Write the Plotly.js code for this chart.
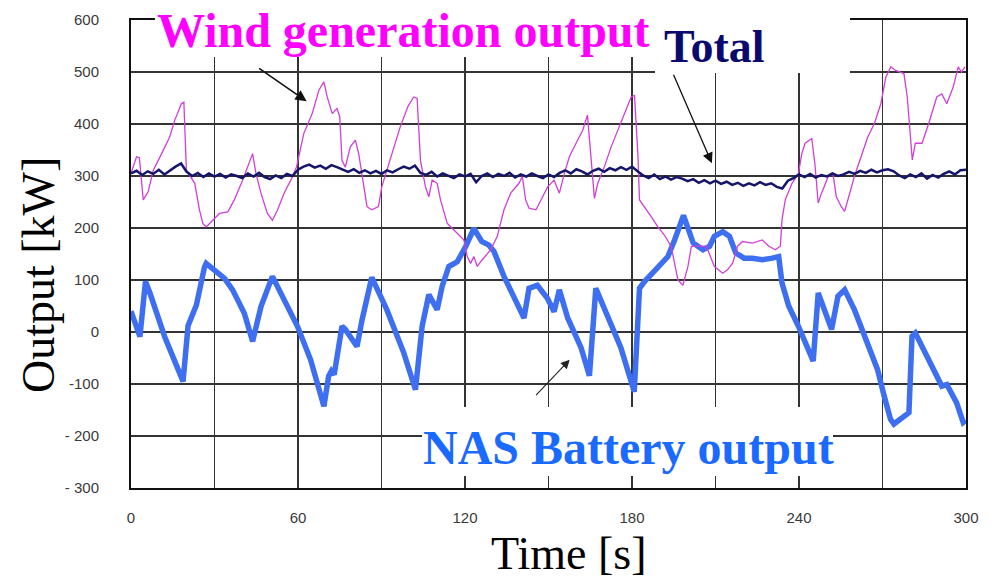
<!DOCTYPE html>
<html>
<head>
<meta charset="utf-8">
<script src="https://cdn.plot.ly/plotly-3.0.1.min.js"></script>
<style>html,body{margin:0;padding:0;background:#fff;}#chart{width:995px;height:581px;}</style>
</head>
<body>
<div id="chart"></div>
<script>
// ---- data ----
const xTickVals = [0, 30, 60, 90, 120, 150, 180, 210, 240, 270, 300];
const xTickText = ['0', '', '60', '', '120', '', '180', '', '240', '', '300'];
const yTickVals = [-300, -200, -100, 0, 100, 200, 300, 400, 500, 600];
const yTickText = ['- 300', '- 200', '-100', '0', '100', '200', '300', '400', '500', '600'];

const nasTime = [0, 3.2, 5.2, 6.8, 12.1, 18.7, 20.5, 23.5, 26.4, 27, 30.6, 33.6, 36.5, 40.7, 43.7, 46.7, 50.8, 55, 59.8, 64.5, 69.3, 71, 72, 73, 75.8, 77, 81.2, 83, 86.5, 91.9, 98, 102.2, 104.6, 107, 110, 111.8, 114.2, 117.2, 120.2, 123.2, 126, 128.6, 130.4, 134, 137.6, 141.2, 143, 146, 149.6, 152, 153.9, 156.9, 161.7, 164.7, 167, 171.3, 176, 180.8, 182.7, 184.5, 187.5, 190.5, 192.9, 195.3, 198.5, 202, 205.5, 207.9, 209.6, 212.6, 215, 217.3, 220.3, 223.2, 226.8, 230.4, 232.7, 233.9, 236.3, 239.8, 242.2, 245.1, 246.9, 249.3, 251.7, 254, 256.4, 259.9, 264.7, 268.2, 270.6, 272.9, 274.1, 277.7, 279.5, 280.6, 281.8, 284.8, 288.3, 291.3, 293.1, 296.6, 299, 300];
const nasPower = [40, -9, 97, 75, -9, -95, 12, 52, 125, 132, 116, 103, 81, 36, -18, 49, 107, 62, 11, -53, -143, -85, -75, -82, 11, 5, -28, 23, 105, 43, -40, -111, 11, 72, 43, 88, 126, 135, 164, 199, 174, 167, 155, 107, 65, 27, 84, 90, 65, 39, 81, 27, -30, -84, 84, 27, -30, -115, 84, 97, 113, 132, 145, 177, 224, 171, 158, 165, 184, 193, 184, 152, 142, 142, 139, 142, 145, 94, 50, 11, -21, -56, 75, 37, 5, 69, 81, 43, -21, -72, -123, -168, -177, -161, -155, -8, -2, -34, -72, -104, -101, -136, -174, -170];

const windTime = [0, 2, 3, 4.4, 6.2, 8, 9.8, 12.1, 13.9, 15.7, 18.1, 19, 19.9, 22.9, 24.6, 25.8, 27, 29.4, 31.8, 34.8, 37.1, 40.1, 42.5, 43.7, 44.9, 46.7, 49, 50.8, 52.6, 55, 57.4, 59.5, 62.1, 65.1, 67.5, 69.3, 70.5, 72.3, 74, 75, 75.8, 77, 78.8, 80.6, 81.8, 83.6, 84.8, 86.5, 88.9, 90.1, 93.1, 96.7, 99.6, 101.6, 102.8, 104, 105.8, 107, 108.2, 110, 111.2, 113.6, 117.2, 119.6, 120.8, 122, 123.2, 124.4, 126.2, 129.2, 131.6, 134, 136.4, 139.4, 140.6, 141.8, 143, 145.5, 147.3, 149.7, 152, 153.9, 155.7, 157.5, 159.9, 162.3, 164, 165.3, 166.5, 167.7, 170.1, 172.5, 174.9, 177.3, 179.7, 180.9, 182.1, 182.7, 184.5, 186.9, 189.3, 191.7, 194.1, 196.5, 198.3, 200.1, 201.3, 203.1, 206.7, 208.5, 209.6, 212.6, 214.4, 216.2, 217.9, 219.7, 223.3, 226.8, 229.2, 231.5, 233.3, 233.9, 235.1, 237.5, 239.8, 241, 242.2, 244.6, 245.7, 246.9, 248.1, 250.5, 252.2, 253.4, 255.2, 256.4, 258.2, 259.9, 262.3, 264.7, 267.1, 269.4, 271.2, 273, 274.7, 277.7, 278.9, 280.1, 280.7, 281.8, 284.2, 286.6, 289.5, 291.3, 293.1, 295.4, 297.2, 298.4, 299.6];
const windPower = [305, 337, 335, 254, 270, 311, 330, 356, 375, 407, 439, 442, 311, 286, 235, 209, 202, 215, 228, 231, 254, 292, 324, 343, 305, 267, 228, 215, 234, 267, 292, 318, 382, 420, 465, 481, 452, 420, 430, 414, 330, 317, 356, 369, 343, 279, 241, 235, 241, 279, 330, 394, 435, 452, 449, 330, 279, 260, 292, 286, 254, 209, 190, 177, 145, 132, 145, 126, 139, 158, 184, 235, 267, 286, 299, 254, 238, 235, 254, 279, 292, 267, 305, 337, 363, 388, 417, 324, 257, 286, 318, 356, 388, 420, 452, 455, 343, 254, 241, 222, 202, 186, 164, 100, 90, 126, 164, 165, 165, 139, 126, 113, 120, 133, 165, 174, 171, 177, 165, 158, 165, 216, 255, 286, 305, 343, 363, 372, 324, 248, 267, 299, 305, 260, 241, 232, 267, 299, 337, 375, 401, 439, 490, 510, 503, 497, 452, 363, 331, 363, 363, 401, 452, 458, 439, 471, 510, 500, 510];

const totalTime = [0, 2, 4, 6, 8, 10, 12, 14, 16, 18, 20, 22, 24, 26, 28, 30, 32, 34, 36, 38, 40, 42, 44, 46, 48, 50, 52, 54, 56, 58, 60, 62, 64, 66, 68, 70, 72, 74, 76, 78, 80, 82, 84, 86, 88, 90, 92, 94, 96, 98, 100, 102, 104, 106, 108, 110, 112, 114, 116, 118, 120, 122, 124, 126, 128, 130, 132, 134, 136, 138, 140, 142, 144, 146, 148, 150, 152, 154, 156, 158, 160, 162, 164, 166, 168, 170, 172, 174, 176, 178, 180, 182, 184, 186, 188, 190, 192, 194, 196, 198, 200, 202, 204, 206, 208, 210, 212, 214, 216, 218, 220, 222, 224, 226, 228, 230, 232, 234, 236, 238, 240, 242, 244, 246, 248, 250, 252, 254, 256, 258, 260, 262, 264, 266, 268, 270, 272, 274, 276, 278, 280, 282, 284, 286, 288, 290, 292, 294, 296, 298, 300];
const totalPower = [305, 310, 302, 309, 304, 312, 303, 311, 318, 324, 308, 300, 306, 298, 305, 299, 304, 297, 303, 300, 296, 305, 299, 306, 298, 294, 301, 296, 304, 300, 312, 318, 322, 316, 320, 314, 321, 317, 312, 308, 313, 306, 311, 305, 310, 304, 311, 307, 313, 318, 314, 320, 306, 302, 308, 299, 305, 301, 296, 303, 299, 304, 288, 300, 305, 298, 304, 300, 306, 297, 303, 299, 305, 300, 296, 303, 298, 306, 311, 305, 313, 309, 303, 310, 314, 308, 315, 311, 317, 312, 318, 309, 301, 296, 303, 294, 299, 293, 298, 295, 290, 294, 287, 292, 286, 291, 285, 289, 283, 287, 281, 286, 282, 288, 283, 286, 279, 276, 291, 296, 303, 298, 304, 297, 302, 299, 305, 300, 303, 308, 304, 310, 306, 312, 307, 311, 313, 309, 301, 296, 303, 298, 305, 295, 302, 297, 304, 309, 303, 311, 312];

// ---- chart ----
const serif = "'Liberation Serif', 'Times New Roman', serif";
const sans = "'Liberation Sans', Arial, sans-serif";

const traces = [
  {x: nasTime, y: nasPower, type: 'scatter', mode: 'lines', name: 'NAS Battery output',
   line: {color: '#3d6ff0', width: 5.5}},
  {x: windTime, y: windPower, type: 'scatter', mode: 'lines', name: 'Wind generation output',
   line: {color: '#d23fd6', width: 1.3}},
  {x: totalTime, y: totalPower, type: 'scatter', mode: 'lines', name: 'Total',
   line: {color: '#15156b', width: 2.5}}
];

function px2paperX(px) { return (px - 131) / 835; }
function px2paperY(py) { return (488 - py) / 468; }

const layout = {
  width: 995, height: 581,
  margin: {l: 131, r: 29, t: 20, b: 93},
  paper_bgcolor: '#ffffff', plot_bgcolor: '#ffffff',
  showlegend: false,
  xaxis: {
    range: [0, 300], tickmode: 'array', tickvals: xTickVals, ticktext: xTickText,
    showgrid: true, gridcolor: '#333333', gridwidth: 1.8,
    showline: true, mirror: true, linecolor: '#111', linewidth: 2,
    zeroline: false, ticks: '', ticklabelstandoff: 15,
    tickfont: {family: sans, size: 15, color: '#3a3a3a'}
  },
  yaxis: {
    range: [-300, 600], tickmode: 'array', tickvals: yTickVals, ticktext: yTickText,
    showgrid: true, gridcolor: '#333333', gridwidth: 1.8,
    showline: true, mirror: true, linecolor: '#111', linewidth: 2,
    zeroline: false, ticks: '', ticklabelstandoff: 27,
    tickfont: {family: sans, size: 15, color: '#3a3a3a'}
  },
  shapes: [
    {type: 'rect', xref: 'paper', yref: 'paper', layer: 'above', line: {width: 0}, fillcolor: '#ffffff',
     x0: px2paperX(155), x1: px2paperX(655), y0: px2paperY(57), y1: px2paperY(0)},
    {type: 'rect', xref: 'paper', yref: 'paper', layer: 'above', line: {width: 0}, fillcolor: '#ffffff',
     x0: px2paperX(655), x1: px2paperX(850), y0: px2paperY(73), y1: px2paperY(0)},
    {type: 'rect', xref: 'paper', yref: 'paper', layer: 'above', line: {width: 0}, fillcolor: '#ffffff',
     x0: px2paperX(422), x1: px2paperX(833), y0: px2paperY(476), y1: px2paperY(407)}
  ],
  annotations: [
    {text: '<b>Wind generation output</b>', xref: 'paper', yref: 'paper',
     x: px2paperX(403), y: px2paperY(30), xanchor: 'center', yanchor: 'middle', showarrow: false,
     font: {family: serif, size: 48, color: '#ff00ff'}},
    {text: '<b>Total</b>', xref: 'paper', yref: 'paper',
     x: px2paperX(714), y: px2paperY(46), xanchor: 'center', yanchor: 'middle', showarrow: false,
     font: {family: serif, size: 46, color: '#0a0a6e'}},
    {text: '<b>NAS Battery output</b>', xref: 'paper', yref: 'paper',
     x: px2paperX(628), y: px2paperY(447), xanchor: 'center', yanchor: 'middle', showarrow: false,
     font: {family: serif, size: 48, color: '#1a6aff'}},
    {text: 'Output [kW]', xref: 'paper', yref: 'paper', textangle: -90,
     x: px2paperX(38), y: px2paperY(275), xanchor: 'center', yanchor: 'middle', showarrow: false,
     font: {family: serif, size: 46, color: '#000000'}},
    {text: 'Time [s]', xref: 'paper', yref: 'paper',
     x: px2paperX(569), y: px2paperY(553), xanchor: 'center', yanchor: 'middle', showarrow: false,
     font: {family: serif, size: 46, color: '#000000'}},
    {text: '', x: 63.1, y: 443.6, xref: 'x', yref: 'y', showarrow: true, ax: -49, ay: -34,
     arrowhead: 2, arrowsize: 1.4, arrowwidth: 1.6, arrowcolor: '#111'},
    {text: '', x: 208.7, y: 324.7, xref: 'x', yref: 'y', showarrow: true, ax: -39, ay: -90,
     arrowhead: 2, arrowsize: 1.6, arrowwidth: 1.3, arrowcolor: '#111'},
    {text: '', x: 157.6, y: -53.3, xref: 'x', yref: 'y', showarrow: true, ax: -35, ay: 37,
     arrowhead: 2, arrowsize: 1.6, arrowwidth: 1.1, arrowcolor: '#222'}
  ]
};

Plotly.newPlot('chart', traces, layout, {displayModeBar: false, staticPlot: true});
</script>
</body>
</html>
